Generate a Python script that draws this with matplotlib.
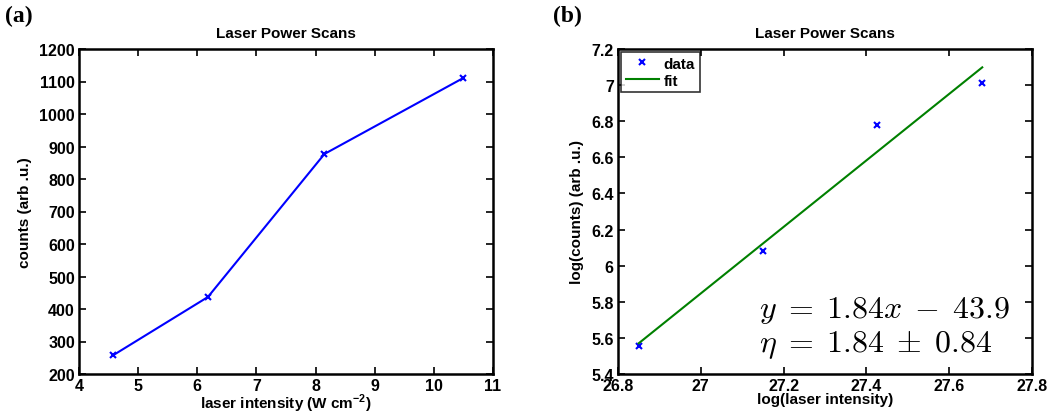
import numpy as np
import matplotlib.pyplot as plt
from matplotlib.ticker import FuncFormatter

# laser intensity in units of 1e11 W/cm^2, counts in arb. units
intensity = [4.58, 6.18, 8.15, 10.5]
counts = [258, 437, 877, 1111]

log_int = np.log(np.array(intensity) * 1e11)
log_counts = np.log(np.array(counts))

plt.rcParams['font.family'] = 'Liberation Sans'
plt.rcParams['font.weight'] = 'bold'
plt.rcParams['axes.titleweight'] = 'bold'
plt.rcParams['axes.labelweight'] = 'bold'
plt.rcParams['mathtext.fontset'] = 'custom'
plt.rcParams['mathtext.bf'] = 'Liberation Sans:bold'
plt.rcParams['mathtext.rm'] = 'Liberation Sans:bold'

fig = plt.figure(figsize=(10.47, 4.14), dpi=100)
ax1 = fig.add_axes([79/1047, 39/414, 414/1047, 325/414])
ax2 = fig.add_axes([618/1047, 39/414, 414/1047, 325/414])

gfmt = FuncFormatter(lambda v, p: ('%.1f' % v).rstrip('0').rstrip('.'))

# (a) linear scan
ax1.plot(intensity, counts, '-x', color='blue', lw=1.5, ms=5, mew=1.5)
ax1.set_xlim(4, 11)
ax1.set_ylim(200, 1200)
ax1.set_xticks(range(4, 12))
ax1.set_yticks(range(200, 1300, 100))
ax1.set_title('Laser Power Scans', fontsize=11, pad=9)
ax1.set_xlabel(r'laser intensity (W cm$^{\mathbf{-2}}$)', fontsize=11, labelpad=-1)
ax1.set_ylabel('counts (arb .u.)', fontsize=11, labelpad=5)
ax1.text(0.903, -0.112, r'x 10$^{\mathbf{11}}$', transform=ax1.transAxes,
         fontsize=10.5, va='top', ha='left')

# (b) log-log with fit
slope, icpt = np.polyfit(log_int, log_counts, 1)
ax2.plot(log_int, log_counts, 'x', color='blue', ms=5, mew=1.5, label='data')
ax2.plot(log_int, slope * log_int + icpt, '-', color='#008000', lw=1.5, label='fit')
ax2.set_xlim(26.8, 27.8)
ax2.set_ylim(5.4, 7.2)
ax2.set_xticks(np.arange(26.8, 27.81, 0.2))
ax2.set_yticks(np.arange(5.4, 7.21, 0.2))
ax2.xaxis.set_major_formatter(gfmt)
ax2.yaxis.set_major_formatter(gfmt)
ax2.set_title('Laser Power Scans', fontsize=11, pad=9)
ax2.set_xlabel('log(laser intensity)', fontsize=11, labelpad=-1)
ax2.set_ylabel('log(counts) (arb .u.)', fontsize=11, labelpad=5)
leg = ax2.legend(loc='upper left', prop={'family': 'Liberation Sans', 'size': 11, 'weight': 'bold'},
                 frameon=True, fancybox=False, edgecolor='black',
                 borderpad=0.3, labelspacing=0.2, handlelength=2.2,
                 handletextpad=0.3, borderaxespad=0.2)
leg.get_frame().set_linewidth(1.2)
ax2.text(0.34, 0.175, r'$y\;=\;1.84x\;-\;43.9$', transform=ax2.transAxes,
         fontsize=23, math_fontfamily='cm')
ax2.text(0.34, 0.07, r'$\eta\;=\;1.84\;\pm\;0.84$', transform=ax2.transAxes,
         fontsize=23, math_fontfamily='cm')

for ax in (ax1, ax2):
    for s in ax.spines.values():
        s.set_linewidth(1.8)
    ax.tick_params(direction='in', top=True, right=True, length=5, width=1.2,
                   labelsize=11.5, pad=3)
    plt.setp(ax.get_xticklabels() + ax.get_yticklabels(), fontweight='bold',
             family='Liberation Sans')

fig.text(5/1047, 1 - 16/414, '(a)', family='Liberation Serif', fontsize=17,
         fontweight='bold', va='center')
fig.text(553/1047, 1 - 16/414, '(b)', family='Liberation Serif', fontsize=17,
         fontweight='bold', va='center')

fig.savefig('out.png', dpi=100)
